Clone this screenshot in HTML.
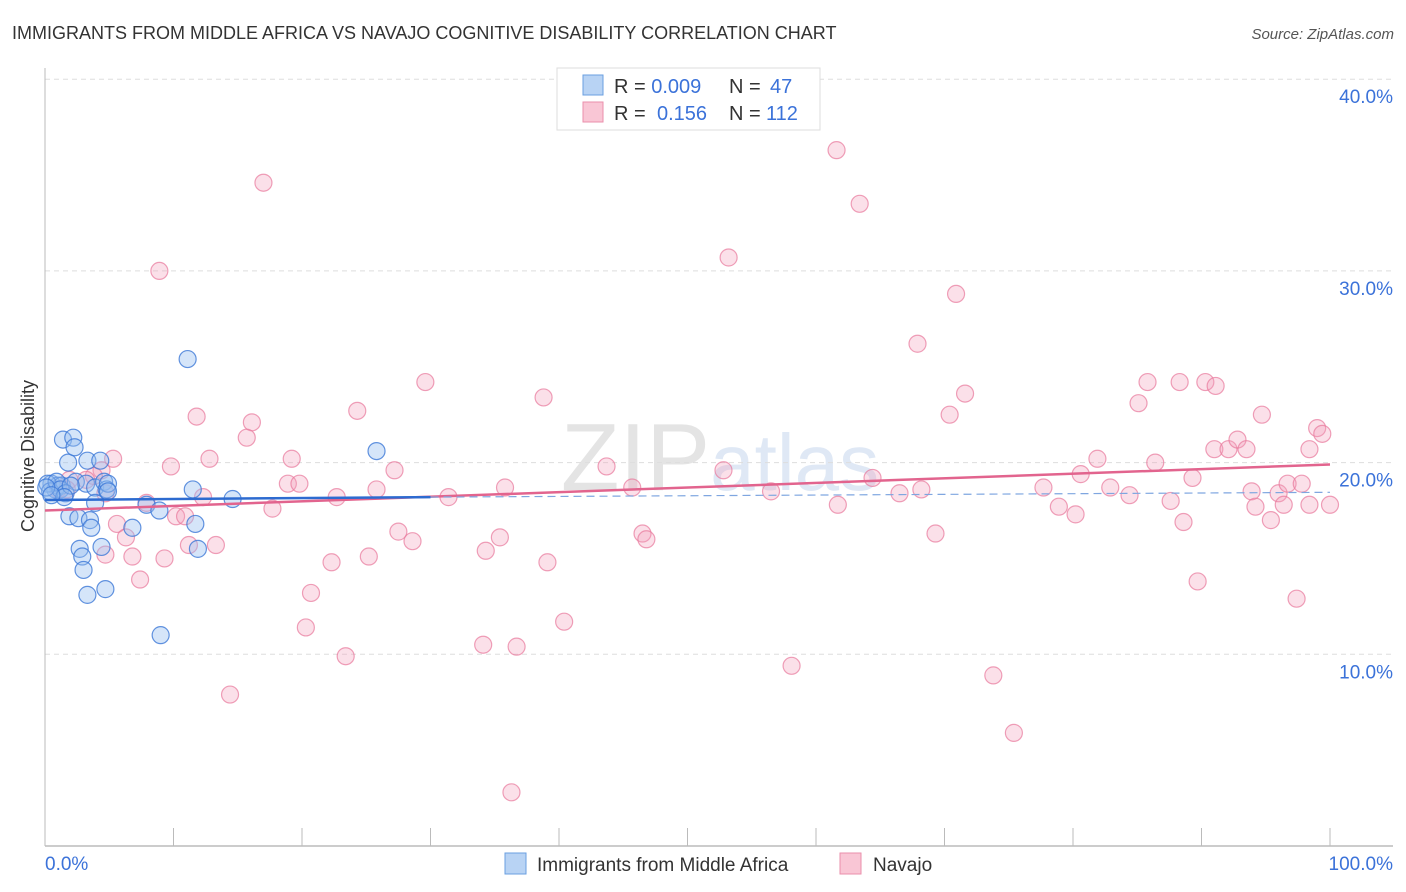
<!DOCTYPE html>
<html><head><meta charset="utf-8">
<style>
body{margin:0;background:#fff;font-family:"Liberation Sans",sans-serif;}
#wrap{position:relative;width:1406px;height:892px;overflow:hidden;}
svg text{font-family:"Liberation Sans",sans-serif;}
</style></head>
<body>
<div id="wrap">
<svg id="chart" width="1406" height="892">
  <text x="12" y="39" font-size="18" fill="#333">IMMIGRANTS FROM MIDDLE AFRICA VS NAVAJO COGNITIVE DISABILITY CORRELATION CHART</text>
  <text x="1394" y="39" font-size="15" fill="#555" font-style="italic" text-anchor="end">Source: ZipAtlas.com</text>
  <text x="720" y="490" font-size="96" fill="#e4e4e4" text-anchor="middle" font-family="Liberation Serif">ZIP<tspan fill="#dfe8f5" font-family="Liberation Sans" font-size="80">atlas</tspan></text>
  <g id="grid"></g>
  <g id="axes"></g>
  <g id="pts"></g>
  <g id="lines"></g>
  <text transform="translate(34,456) rotate(-90)" font-size="18" fill="#333" text-anchor="middle">Cognitive Disability</text>
  <g>
    <rect x="557" y="68" width="263" height="62" fill="#fff" stroke="#ddd"/>
    <rect x="583" y="75" width="20" height="20" fill="#b8d3f4" stroke="#6a9fe0"/>
    <text x="614" y="93" font-size="20" fill="#333">R = <tspan fill="#3b72d9">0.009</tspan><tspan x="729">N = </tspan><tspan fill="#3b72d9" x="770">47</tspan></text>
    <rect x="583" y="102" width="20" height="20" fill="#f9c6d5" stroke="#ea8fab"/>
    <text x="614" y="120" font-size="20" fill="#333">R = <tspan fill="#3b72d9" x="657">0.156</tspan><tspan x="729">N = </tspan><tspan fill="#3b72d9" x="766">112</tspan></text>
  </g>
  <g>
    <rect x="505" y="853" width="21" height="21" fill="#b8d3f4" stroke="#6a9fe0"/>
    <text x="537" y="871" font-size="19" fill="#333">Immigrants from Middle Africa</text>
    <rect x="840" y="853" width="21" height="21" fill="#f9c6d5" stroke="#ea8fab"/>
    <text x="873" y="871" font-size="19" fill="#333">Navajo</text>
  </g>
</svg>
</div>
<script>
const yTicks=[10,20,30,40];
const yTickLabels=["10.0%","20.0%","30.0%","40.0%"];
const xTickLabels=["0.0%","100.0%"];
const blueX=[0.5,0.8,1.0,1.3,1.4,1.8,1.9,2.2,2.3,2.4,2.6,2.7,2.9,3.0,3.2,3.3,3.5,3.6,3.3,3.9,3.9,4.3,4.4,4.6,4.7,4.8,4.9,6.8,7.9,8.9,9.0,11.1,11.5,11.7,11.9,14.6,25.8,0.2,0.4,0.9,1.2,1.6,2.0,0.1,1.5,4.9,0.5];
const blueY=[18.9,18.6,18.8,18.8,21.2,20.0,17.2,21.3,20.8,19.0,17.1,15.5,15.1,14.4,18.9,13.1,17.0,16.6,20.1,18.7,17.9,20.1,15.6,19.0,13.4,18.6,18.9,16.6,17.8,17.5,11.0,25.4,18.6,16.8,15.5,18.1,20.6,18.9,18.5,19.0,18.6,18.4,18.8,18.7,18.2,18.5,18.3];
const pinkX=[17.0,8.9,61.6,63.4,53.2,70.9,67.9,29.6,38.8,71.6,70.4,85.1,85.8,88.3,90.3,91.1,94.7,99.0,99.4,11.8,16.1,24.3,15.7,12.8,5.3,4.4,9.8,19.2,27.2,43.7,52.8,81.9,86.4,91.0,92.1,92.8,93.5,98.4,80.6,64.4,89.3,3.8,1.9,3.2,1.0,1.7,4.7,12.3,18.9,19.8,25.8,35.8,45.7,22.7,31.4,56.5,66.5,68.2,77.7,82.9,84.4,93.9,96.0,96.7,97.8,100,7.9,17.7,61.7,78.9,80.2,87.6,94.2,96.4,98.4,5.6,6.3,10.2,10.9,27.5,28.6,35.4,46.5,46.8,69.3,88.6,95.4,11.2,13.3,4.7,6.8,9.3,25.2,34.3,22.3,39.1,7.4,20.7,89.7,97.4,20.3,40.4,34.1,36.7,23.4,58.1,73.8,14.4,75.4,36.3];
const pinkY=[34.6,30.0,36.3,33.5,30.7,28.8,26.2,24.2,23.4,23.6,22.5,23.1,24.2,24.2,24.2,24.0,22.5,21.8,21.5,22.4,22.1,22.7,21.3,20.2,20.2,19.6,19.8,20.2,19.6,19.8,19.6,20.2,20.0,20.7,20.7,21.2,20.7,20.7,19.4,19.2,19.2,19.3,19.1,19.1,18.6,18.6,18.4,18.2,18.9,18.9,18.6,18.7,18.7,18.2,18.2,18.5,18.4,18.6,18.7,18.7,18.3,18.5,18.4,18.9,18.9,17.8,17.9,17.6,17.8,17.7,17.3,18.0,17.7,17.8,17.8,16.8,16.1,17.2,17.2,16.4,15.9,16.1,16.3,16.0,16.3,16.9,17.0,15.7,15.7,15.2,15.1,15.0,15.1,15.4,14.8,14.8,13.9,13.2,13.8,12.9,11.4,11.7,10.5,10.4,9.9,9.4,8.9,7.9,5.9,2.8];
const blueTrendX=[0,30,100];
const blueTrendY=[18.05,18.2,18.45];
const pinkTrendX=[0,100];
const pinkTrendY=[17.5,19.9];

const X0=45,X1=1330,Y0=846,PY=19.17;
function xs(v){return X0+(X1-X0)*v/100;}
function ys(v){return Y0-v*PY;}
const NS="http://www.w3.org/2000/svg";
function mk(tag,attrs,parent){const e=document.createElementNS(NS,tag);for(const k in attrs)e.setAttribute(k,attrs[k]);parent.appendChild(e);return e;}
const grid=document.getElementById('grid'),axes=document.getElementById('axes'),pts=document.getElementById('pts'),lines=document.getElementById('lines');
yTicks.forEach((t,i)=>{
  const l=mk('line',{x1:X0,x2:1393,y1:ys(t),y2:ys(t),stroke:'#ddd','stroke-dasharray':'5,4'},grid);
  
  
  const tx=mk('text',{x:1393,y:ys(t)+24,'font-size':19,fill:'#3b72d9','text-anchor':'end'},axes);
  tx.textContent=yTickLabels[i];
  
  
});
const yl=mk('line',{x1:X0,x2:X0,y1:68,y2:846,stroke:'#bbb'},axes);


const xl=mk('line',{x1:X0,x2:1393,y1:846,y2:846,stroke:'#bbb','stroke-width':1.5},axes);


for(let i=0;i<=10;i++){
  const tk=mk('line',{x1:xs(i*10),x2:xs(i*10),y1:828,y2:846,stroke:'#bbb'},axes);
  
  
}
const xa=mk('text',{x:45,y:870,'font-size':19,fill:'#3b72d9'},axes);xa.textContent=xTickLabels[0];


const xb=mk('text',{x:1393,y:870,'font-size':19,fill:'#3b72d9','text-anchor':'end'},axes);xb.textContent=xTickLabels[1];



pinkX.forEach((v,i)=>{
  const c=mk('circle',{cx:xs(v),cy:ys(pinkY[i]),r:8.5,fill:'rgba(244,160,186,0.32)',stroke:'rgba(232,120,155,0.7)','stroke-width':1.2},pts);
  
  
});
blueX.forEach((v,i)=>{
  const c=mk('circle',{cx:xs(v),cy:ys(blueY[i]),r:8.5,fill:'rgba(150,190,240,0.4)',stroke:'rgba(60,120,215,0.8)','stroke-width':1.2},pts);
  
  
});
const pl=mk('line',{x1:xs(pinkTrendX[0]),y1:ys(pinkTrendY[0]),x2:xs(pinkTrendX[1]),y2:ys(pinkTrendY[1]),stroke:'#e2648e','stroke-width':2.5},lines);


const bl=mk('line',{x1:xs(blueTrendX[0]),y1:ys(blueTrendY[0]),x2:xs(blueTrendX[1]),y2:ys(blueTrendY[1]),stroke:'#2d6bd0','stroke-width':2.5},lines);


const bd=mk('line',{x1:xs(blueTrendX[1]),y1:ys(blueTrendY[1]),x2:xs(blueTrendX[2]),y2:ys(blueTrendY[2]),stroke:'#7fa6e0','stroke-width':1.2,'stroke-dasharray':'8,5'},lines);


</script>
</body></html>
